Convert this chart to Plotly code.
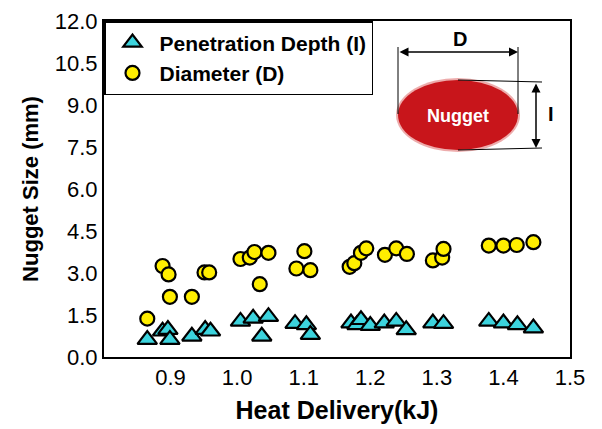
import plotly.graph_objects as go

# ---- data ----
depth_x = [0.865, 0.888, 0.896, 0.899, 0.932, 0.952, 0.960,
           1.005, 1.024, 1.047, 1.037, 1.087, 1.104, 1.110,
           1.171, 1.180, 1.186, 1.200, 1.221, 1.239, 1.254,
           1.294, 1.310, 1.378, 1.400, 1.421, 1.445]
depth_y = [0.62, 0.92, 0.98, 0.62, 0.74, 0.98, 0.92,
           1.27, 1.38, 1.44, 0.74, 1.19, 1.15, 0.80,
           1.21, 1.15, 1.33, 1.12, 1.21, 1.27, 0.97,
           1.21, 1.19, 1.27, 1.21, 1.15, 1.03]

diam_x = [0.865, 0.888, 0.897, 0.899, 0.932, 0.951, 0.958,
          1.005, 1.019, 1.026, 1.047, 1.034, 1.101, 1.089, 1.110,
          1.169, 1.176, 1.186, 1.194, 1.222, 1.239, 1.255,
          1.294, 1.308, 1.310, 1.378, 1.400, 1.420, 1.445]
diam_y = [1.37, 3.25, 2.95, 2.15, 2.15, 3.02, 3.02,
          3.50, 3.55, 3.75, 3.72, 2.60, 3.78, 3.16, 3.10,
          3.22, 3.35, 3.72, 3.88, 3.65, 3.88, 3.68,
          3.45, 3.55, 3.86, 3.98, 3.98, 4.00, 4.10]

x_ticks = [0.9, 1.0, 1.1, 1.2, 1.3, 1.4, 1.5]
y_ticks = [0.0, 1.5, 3.0, 4.5, 6.0, 7.5, 9.0, 10.5, 12.0]

FONT = "Arial, Liberation Sans, sans-serif"
OFF = 8  # page body margin
W, H = 594, 421
L, R, T, B = 96, 32, 13, 72
PW, PH = W - L - R, H - T - B


def xp(px):
    # window pixel -> paper fraction
    return (px - OFF - L) / PW


def yp(py):
    return (H - B - (py - OFF)) / PH


fig = go.Figure()
fig.add_trace(go.Scatter(
    x=depth_x, y=depth_y, mode="markers", name="Penetration Depth (I)",
    marker=dict(symbol="triangle-up", size=17, color="#3CD3DD",
                line=dict(color="black", width=2.2))))
fig.add_trace(go.Scatter(
    x=diam_x, y=diam_y, mode="markers", name="Diameter (D)",
    marker=dict(symbol="circle", size=14, color="#FFEE00",
                line=dict(color="black", width=2.2))))

shapes = [
    # nugget glow + body
    dict(type="circle", xref="paper", yref="paper",
         x0=xp(396), x1=xp(520), y0=yp(78), y1=yp(152),
         fillcolor="rgba(215,70,70,0.45)", line=dict(width=0), layer="above"),
    dict(type="circle", xref="paper", yref="paper",
         x0=xp(398), x1=xp(518), y0=yp(80), y1=yp(150),
         fillcolor="#C8151B", line=dict(width=0), layer="above"),
    # D extension lines
    dict(type="line", xref="paper", yref="paper", x0=xp(398), x1=xp(398),
         y0=yp(47), y1=yp(114), line=dict(color="black", width=1)),
    dict(type="line", xref="paper", yref="paper", x0=xp(518), x1=xp(518),
         y0=yp(47), y1=yp(114), line=dict(color="black", width=1)),
    # I extension lines
    dict(type="line", xref="paper", yref="paper", x0=xp(458), x1=xp(542),
         y0=yp(80), y1=yp(82), line=dict(color="black", width=1)),
    dict(type="line", xref="paper", yref="paper", x0=xp(458), x1=xp(542),
         y0=yp(150), y1=yp(148), line=dict(color="black", width=1)),
]

annotations = [
    dict(xref="paper", yref="paper", axref="pixel", ayref="pixel",
         x=xp(518), y=yp(52), ax=-120, ay=0, text="",
         showarrow=True, arrowside="end+start", arrowhead=2,
         arrowsize=1.2, arrowwidth=1.5, arrowcolor="black"),
    dict(xref="paper", yref="paper", axref="pixel", ayref="pixel",
         x=xp(536), y=yp(148), ax=0, ay=-66, text="",
         showarrow=True, arrowside="end+start", arrowhead=2,
         arrowsize=1.2, arrowwidth=1.5, arrowcolor="black"),
    dict(xref="paper", yref="paper", x=xp(460), y=yp(39), text="<b>D</b>",
         xanchor="center", yanchor="middle", showarrow=False,
         font=dict(family=FONT, size=20, color="black")),
    dict(xref="paper", yref="paper", x=xp(551), y=yp(114), text="<b>I</b>",
         xanchor="center", yanchor="middle", showarrow=False,
         font=dict(family=FONT, size=20, color="black")),
    dict(xref="paper", yref="paper", x=xp(458), y=yp(116), text="<b>Nugget</b>",
         xanchor="center", yanchor="middle", showarrow=False,
         font=dict(family=FONT, size=18, color="white")),
]

fig.update_layout(
    width=W, height=H,
    margin=dict(l=L, r=R, t=T, b=B, autoexpand=False),
    paper_bgcolor="white", plot_bgcolor="white",
    font=dict(family=FONT, color="black"),
    shapes=shapes, annotations=annotations,
    legend=dict(x=0, y=1, xanchor="left", yanchor="top",
                bgcolor="white", bordercolor="black", borderwidth=1.5,
                font=dict(family=FONT, size=21, color="black", weight="bold"),
                itemsizing="trace", tracegroupgap=0, itemwidth=44),
    xaxis=dict(range=[0.8, 1.5], tickvals=x_ticks, tickformat=".1f",
               showgrid=False, zeroline=False, showline=True, mirror=True,
               linecolor="black", linewidth=2, ticks="",
               ticklabeloverflow="allow", automargin=False,
               tickfont=dict(family=FONT, size=22, color="black"),
               title=dict(text="<b>Heat Delivery(kJ)</b>", standoff=12,
                          font=dict(family=FONT, size=25, color="black"))),
    yaxis=dict(range=[0, 12], tickvals=y_ticks, tickformat=".1f",
               showgrid=False, zeroline=False, showline=True, mirror=True,
               linecolor="black", linewidth=2, ticks="",
               ticklabeloverflow="allow", automargin=False,
               tickfont=dict(family=FONT, size=22, color="black"),
               title=dict(text="<b>Nugget Size (mm)</b>", standoff=10,
                          font=dict(family=FONT, size=22, color="black"))),
)

fig.write_html("out.html")
